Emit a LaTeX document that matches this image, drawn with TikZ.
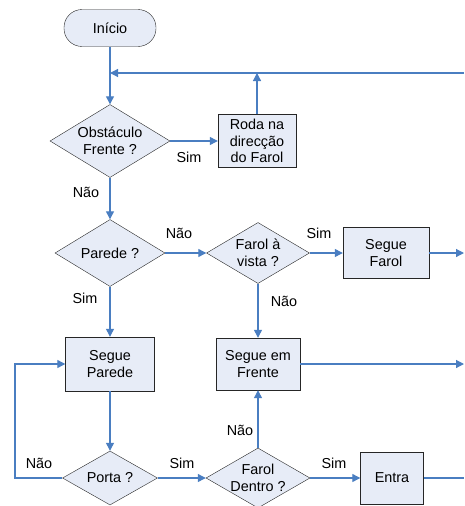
\documentclass[tikz,border=0pt]{standalone}
\usepackage{fontspec}
\setmainfont{Liberation Sans}
\usetikzlibrary{shapes.geometric,arrows.meta}
\definecolor{boxfill}{RGB}{231,236,247}
\definecolor{flowline}{RGB}{74,126,193}

\begin{document}
\begin{tikzpicture}[x=1pt,y=-1pt,
  every node/.style={font=\fontsize{14.4}{16.8}\selectfont},
  start/.style={draw=black!85,fill=boxfill,rounded corners=18pt,minimum width=92pt,minimum height=37pt,inner sep=0pt},
  action/.style={draw=black!85,fill=boxfill,align=center,inner sep=0pt},
  test/.style={draw=black!85,fill=boxfill,diamond,aspect=1.65,align=center,inner sep=0pt},
  flow/.style={draw=flowline,line width=1.2pt,-{Triangle[length=8pt,width=8pt]}},
  flowend/.style={draw=flowline,line width=1.2pt}]
\useasboundingbox (0,0) rectangle (464,506);
\clip (0,0) rectangle (464,506);

\node[start] (inicio) at (110,28) {Início};
\node[test,minimum width=120pt,minimum height=73pt] (obstaculo) at (110,141) {Obstáculo\\Frente ?};
\node[action,minimum width=78pt,minimum height=53pt] (roda) at (257,141) {Roda na\\direcção\\do Farol};
\node[test,minimum width=110pt,minimum height=67pt] (parede) at (110,253) {Parede ?};
\node[test,aspect=1.7,minimum width=103pt,minimum height=61pt] (farolvista) at (258,253) {Farol à\\vista ?};
\node[action,minimum width=86pt,minimum height=51pt] (seguefarol) at (386,253) {Segue\\Farol};
\node[action,minimum width=89pt,minimum height=54pt] (segueparede) at (110,364) {Segue\\Parede};
\node[action,minimum width=84pt,minimum height=52pt] (seguefrente) at (258,364) {Segue em\\Frente};
\node[test,minimum width=95pt,minimum height=54pt] (porta) at (110,478) {Porta ?};
\node[test,aspect=1.7,minimum width=104pt,minimum height=60pt] (faroldentro) at (258,478) {Farol\\Dentro ?};
\node[action,minimum width=63pt,minimum height=52pt] (entra) at (392,478) {Entra};

\coordinate (voltaE) at (464,73);
\coordinate (voltaP) at (15,478);
\coordinate (saidaA) at (464,253);
\coordinate (saidaB) at (464,364);
\coordinate (saidaC) at (464,478);

\draw[flow] (inicio) -- (obstaculo);
\draw[flow] (voltaE) -- (voltaE -| inicio);
\draw[flow] (obstaculo) -- (roda);
\draw[flow] (roda) -- (roda |- voltaE);
\draw[flow] (obstaculo) -- (parede);
\draw[flow] (parede) -- (farolvista);
\draw[flow] (farolvista) -- (seguefarol);
\draw[flow] (seguefarol) -- (saidaA);
\draw[flow] (farolvista) -- (seguefrente);
\draw[flow] (seguefrente) -- (saidaB);
\draw[flow] (parede) -- (segueparede);
\draw[flow] (segueparede) -- (porta);
\draw[flow] (porta.west) -- (voltaP) |- (segueparede.west);
\draw[flow] (porta) -- (faroldentro);
\draw[flow] (faroldentro) -- (seguefrente);
\draw[flow] (faroldentro) -- (entra);
\draw[flowend] (entra) -- (saidaC);

\node (simA) at (189,157) {Sim};
\node (naoA) at (86,192) {Não};
\node (naoB) at (179,233) {Não};
\node (simB) at (85,298) {Sim};
\node (simC) at (319,233) {Sim};
\node (naoC) at (284,301) {Não};
\node (naoD) at (39,463) {Não};
\node (simD) at (182,463) {Sim};
\node (naoE) at (240,430) {Não};
\node (simE) at (334,463) {Sim};
\end{tikzpicture}
\end{document}
